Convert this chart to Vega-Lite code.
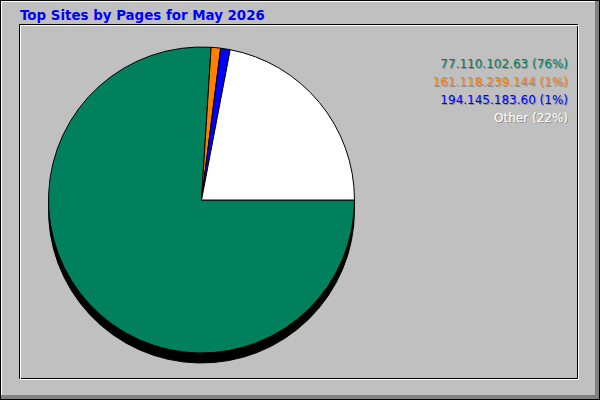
{
  "$schema": "https://vega.github.io/schema/vega-lite/v6.json",
  "width": 600,
  "height": 400,
  "autosize": {"type": "fit", "contains": "padding"},
  "padding": 0,
  "background": "#000000",
  "config": {"view": {"stroke": null}},
  "data": {
    "values": [
      {"site": "77.110.102.63", "label": "77.110.102.63 (76%)", "pct": 76, "order": 1},
      {"site": "161.118.239.144", "label": "161.118.239.144 (1%)", "pct": 1, "order": 2},
      {"site": "194.145.183.60", "label": "194.145.183.60 (1%)", "pct": 1, "order": 3},
      {"site": "Other", "label": "Other (22%)", "pct": 22, "order": 4}
    ]
  },
  "resolve": {"scale": {"y": "independent"}},
  "layer": [
    {
      "encoding": {
        "x": {"type": "quantitative", "scale": {"domain": [0, 600], "nice": false, "zero": false}, "axis": null},
        "y": {"type": "quantitative", "scale": {"domain": [0, 400], "nice": false, "zero": false, "reverse": true}, "axis": null}
      },
      "layer": [
        {
          "data": {"values": [{}]},
          "mark": {"type": "rect", "fill": "#808080"},
          "encoding": {"x": {"datum": 1}, "x2": {"datum": 599}, "y": {"datum": 1}, "y2": {"datum": 399}}
        },
        {
          "data": {"values": [{}]},
          "mark": {"type": "rect", "fill": "#ffffff"},
          "encoding": {"x": {"datum": 1}, "x2": {"datum": 595}, "y": {"datum": 1}, "y2": {"datum": 395}}
        },
        {
          "data": {"values": [{}]},
          "mark": {"type": "rect", "fill": "#c0c0c0"},
          "encoding": {"x": {"datum": 2}, "x2": {"datum": 595}, "y": {"datum": 2}, "y2": {"datum": 395}}
        },
        {
          "data": {"values": [{}]},
          "mark": {"type": "rect", "fill": null, "stroke": "#000000", "strokeWidth": 1},
          "encoding": {"x": {"datum": 19.5}, "x2": {"datum": 577.5}, "y": {"datum": 24.5}, "y2": {"datum": 378.5}}
        },
        {
          "data": {"values": [{}]},
          "mark": {"type": "rect", "fill": null, "stroke": "#ffffff", "strokeWidth": 1},
          "encoding": {"x": {"datum": 20.5}, "x2": {"datum": 578.5}, "y": {"datum": 25.5}, "y2": {"datum": 379.5}}
        },
        {
          "data": {"values": [{"title": "Top Sites by Pages for May 2026"}]},
          "mark": {"type": "text", "align": "left", "baseline": "alphabetic", "font": "DejaVu Sans", "fontSize": 13.4, "fontWeight": "bold", "fill": "#0000ff"},
          "encoding": {"x": {"datum": 20}, "y": {"datum": 19.5}, "text": {"field": "title"}}
        },
        {
          "mark": {"type": "arc", "outerRadius": 153, "fill": "#000000", "stroke": "#000000", "strokeWidth": 1},
          "encoding": {
            "x": {"datum": 201.5},
            "y": {"datum": 210},
            "theta": {"field": "pct", "type": "quantitative", "stack": true, "scale": {"range": [1.5708, 7.854]}},
            "order": {"field": "order"}
          }
        },
        {
          "mark": {"type": "arc", "outerRadius": 153, "stroke": "#000000", "strokeWidth": 1},
          "encoding": {
            "x": {"datum": 201.5},
            "y": {"datum": 200},
            "theta": {"field": "pct", "type": "quantitative", "stack": true, "scale": {"range": [1.5708, 7.854]}},
            "order": {"field": "order"},
            "color": {
              "field": "site",
              "type": "nominal",
              "legend": null,
              "scale": {
                "domain": ["77.110.102.63", "161.118.239.144", "194.145.183.60", "Other"],
                "range": ["#00805c", "#ff8000", "#0000ff", "#ffffff"]
              }
            },
            "tooltip": [
              {"field": "site", "title": "Site"},
              {"field": "pct", "title": "Pages (%)"}
            ]
          }
        }
      ]
    },
    {
      "encoding": {
        "x": {"datum": 568, "type": "quantitative", "scale": {"domain": [0, 600], "nice": false, "zero": false}, "axis": null},
        "y": {"field": "order", "type": "ordinal", "scale": {"type": "point", "range": [67.5, 121.5], "padding": 0}, "axis": null},
        "text": {"field": "label"}
      },
      "layer": [
        {
          "mark": {"type": "text", "align": "right", "baseline": "alphabetic", "font": "DejaVu Sans", "fontSize": 12, "fill": "#000000", "opacity": 0.25, "dx": 1, "dy": 1}
        },
        {
          "mark": {"type": "text", "align": "right", "baseline": "alphabetic", "font": "DejaVu Sans", "fontSize": 12},
          "encoding": {
            "color": {"field": "site", "type": "nominal", "legend": null}
          }
        }
      ]
    }
  ]
}
